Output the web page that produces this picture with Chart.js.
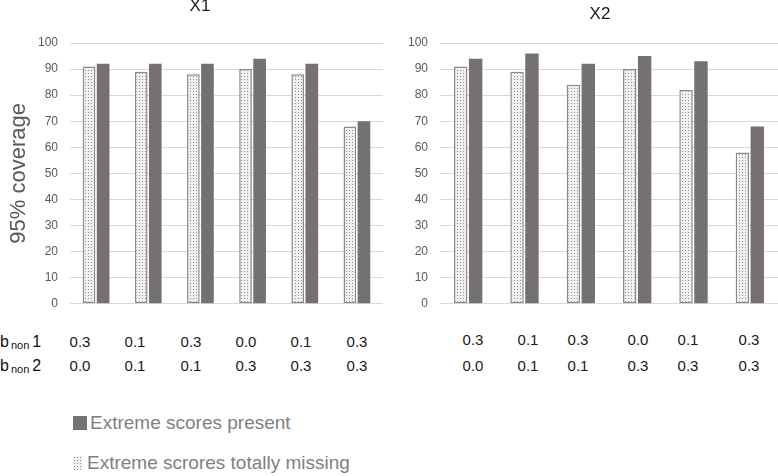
<!DOCTYPE html>
<html>
<head>
<meta charset="utf-8">
<script src="https://cdn.jsdelivr.net/npm/chart.js@4.4.1/dist/chart.umd.min.js"></script>
<style>
  body { margin: 0; background: #fff; }
  #page { position: relative; width: 778px; height: 476px; overflow: hidden; font-family: "Liberation Sans", Arial, sans-serif; }
  .box { position: absolute; }
  .ttl { position: absolute; width: 80px; text-align: center; font-size: 17px; line-height: 20px; color: #1a1a1a; }
  .val { position: absolute; width: 40px; text-align: center; font-size: 15px; line-height: 20px; color: #1a1a1a; }
  .rowh { position: absolute; left: 0; font-size: 16px; line-height: 20px; color: #111; }
  .rowh small { font-size: 11px; vertical-align: -2px; margin: 0 3px 0 2px; }
  .leg { position: absolute; left: 70px; font-size: 19px; line-height: 20px; color: #7f7f7f; white-space: nowrap; }
  .sw { display: inline-block; vertical-align: -1px; margin-right: 3px; }
</style>
</head>
<body>
<div id="page">
  <div class="box" style="left:0;top:0;width:390px;height:323px"><canvas id="c1"></canvas></div>
  <div class="box" style="left:390px;top:0;width:388px;height:323px"><canvas id="c2"></canvas></div>
  <div class="ttl" style="left:160px;top:-4px">X1</div>
  <div class="ttl" style="left:560px;top:4px">X2</div>
  <div class="rowh" style="top:332px">b<small>non</small>1</div>
  <div class="rowh" style="top:356px">b<small>non</small>2</div>
  <div id="vals"></div>
  <div class="leg" style="top:413px"><span class="sw" style="width:14px;height:14px;background:#767171;margin-left:3px"></span>Extreme scores present</div>
  <div class="leg" style="top:453px"><span class="sw" id="dotsw" style="width:9px;height:14px;margin-left:3px;margin-right:5px"></span>Extreme scrores totally missing</div>
</div>
<script>
// datos
const categories = ['0.3/0.0', '0.1/0.1', '0.3/0.1', '0.0/0.3', '0.1/0.3', '0.3/0.3'];
const bNon1 = ['0.3', '0.1', '0.3', '0.0', '0.1', '0.3'];
const bNon2 = ['0.0', '0.1', '0.1', '0.3', '0.3', '0.3'];
const yTicks = [0, 10, 20, 30, 40, 50, 60, 70, 80, 90, 100];

const x1Missing = [91, 89, 88, 90, 88, 68];
const x1Present = [92, 92, 92, 94, 92, 70];
const x2Missing = [91, 89, 84, 90, 82, 58];
const x2Present = [94, 96, 92, 95, 93, 68];

// posiciones de las columnas de texto (como en la tabla original)
const leftCols = [80, 135, 191, 246, 301, 357];
const rightCols = [473, 528, 578, 638, 688, 749];

// patron de puntos para la serie "missing"
function dotPattern() {
  const c = document.createElement('canvas');
  c.width = 3; c.height = 3;
  const g = c.getContext('2d');
  g.fillStyle = '#f0f0f0';
  g.fillRect(0, 0, 3, 3);
  g.fillStyle = '#8f8f8f';
  g.fillRect(1, 1, 1, 1);
  return c;
}
const patCanvas = dotPattern();
const pattern = document.createElement('canvas').getContext('2d').createPattern(patCanvas, 'repeat');
document.getElementById('dotsw').style.background = 'url(' + patCanvas.toDataURL() + ')';

// filas de valores b non
const vals = document.getElementById('vals');
function addRow(cols, list, top) {
  list.forEach((v, i) => {
    const d = document.createElement('div');
    d.className = 'val';
    d.style.left = (cols[i] - 20) + 'px';
    d.style.top = top + 'px';
    d.textContent = v;
    vals.appendChild(d);
  });
}
addRow(leftCols, bNon1, 332);
addRow(leftCols, bNon2, 356);
addRow(rightCols, bNon1, 330);
addRow(rightCols, bNon2, 356);

function makeChart(id, missing, present, axisWidth, withTitle, padRight, catPct) {
  const ctx = document.getElementById(id).getContext('2d');
  return new Chart(ctx, {
    type: 'bar',
    data: {
      labels: categories,
      datasets: [{
        label: 'Extreme scrores totally missing',
        data: missing,
        backgroundColor: pattern,
        borderColor: '#8a8a8a',
        borderWidth: 1.5,
        borderSkipped: false,
        barPercentage: 0.9,
        categoryPercentage: catPct
      }, {
        label: 'Extreme scores present',
        data: present,
        backgroundColor: '#767171',
        borderWidth: 0,
        barPercentage: 0.9,
        categoryPercentage: catPct
      }]
    },
    options: {
      responsive: true,
      maintainAspectRatio: false,
      animation: false,
      layout: { padding: { top: 43, bottom: 7, left: 0, right: padRight } },
      plugins: { legend: { display: false }, tooltip: { enabled: false } },
      scales: {
        x: { display: false, grid: { display: false } },
        y: {
          min: 0,
          max: 100,
          afterBuildTicks: (s) => { s.ticks = yTicks.map(v => ({ value: v })); },
          afterFit: (s) => { s.width = axisWidth; },
          border: { display: false },
          grid: { color: '#d9d9d9', lineWidth: 1, drawTicks: false },
          ticks: { padding: 12, color: '#595959', font: { family: 'Liberation Sans', size: 12 } },
          title: {
            display: withTitle,
            text: '95% coverage',
            color: '#595959',
            padding: { top: 6, bottom: 4 },
            font: { family: 'Liberation Sans', size: 22 }
          }
        }
      }
    }
  });
}

makeChart('c1', x1Missing, x1Present, 70, true, 7, 0.54);
makeChart('c2', x2Missing, x2Present, 50, false, 0, 0.53);
</script>
</body>
</html>
